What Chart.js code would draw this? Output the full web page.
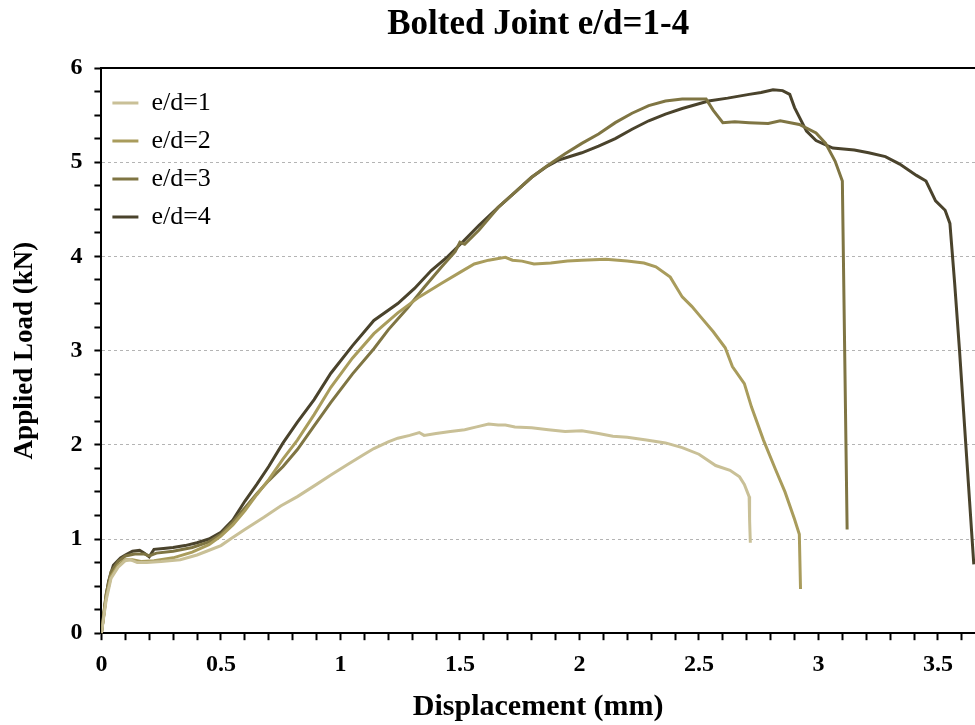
<!DOCTYPE html>
<html>
<head>
<meta charset="utf-8">
<script src="https://cdn.jsdelivr.net/npm/chart.js@4.4.1/dist/chart.umd.min.js"></script>
<style>
  html, body { margin: 0; padding: 0; background: #ffffff; }
  #wrap { width: 975px; height: 725px; }
</style>
</head>
<body>
<div id="wrap"><canvas id="c" width="975" height="725"></canvas></div>
<script>
// ---- data ----
const seriesNames = ['e/d=1', 'e/d=2', 'e/d=3', 'e/d=4'];

const ed1X = [0, 0.02, 0.04, 0.07, 0.1, 0.12, 0.15, 0.19, 0.25, 0.33, 0.4, 0.44, 0.5, 0.54, 0.6, 0.68, 0.75, 0.82, 0.9, 0.96, 1.03, 1.1, 1.14, 1.2, 1.24, 1.29, 1.33, 1.35, 1.4, 1.46, 1.52, 1.57, 1.62, 1.66, 1.69, 1.73, 1.8, 1.87, 1.94, 2.01, 2.08, 2.14, 2.2, 2.28, 2.36, 2.43, 2.5, 2.57, 2.63, 2.67, 2.69, 2.71, 2.712, 2.715];
const ed1Y = [0, 0.35, 0.58, 0.7, 0.77, 0.78, 0.75, 0.75, 0.76, 0.78, 0.83, 0.87, 0.93, 1.0, 1.1, 1.23, 1.35, 1.45, 1.58, 1.68, 1.79, 1.9, 1.96, 2.03, 2.07, 2.1, 2.13, 2.1, 2.12, 2.14, 2.16, 2.19, 2.22, 2.21, 2.21, 2.19, 2.18, 2.16, 2.14, 2.15, 2.12, 2.09, 2.08, 2.05, 2.02, 1.97, 1.9, 1.78, 1.73, 1.66, 1.58, 1.45, 1.2, 0.96];

const ed2X = [0, 0.02, 0.04, 0.07, 0.1, 0.13, 0.17, 0.22, 0.3, 0.38, 0.45, 0.5, 0.55, 0.6, 0.65, 0.7, 0.76, 0.82, 0.89, 0.96, 1.05, 1.14, 1.24, 1.33, 1.42, 1.5, 1.56, 1.62, 1.69, 1.72, 1.76, 1.81, 1.88, 1.95, 2.01, 2.11, 2.2, 2.27, 2.32, 2.38, 2.43, 2.47, 2.51, 2.56, 2.61, 2.64, 2.69, 2.72, 2.77, 2.82, 2.86, 2.9, 2.92, 2.925];
const ed2Y = [0, 0.38, 0.6, 0.72, 0.78, 0.78, 0.76, 0.77, 0.8, 0.86, 0.94, 1.03, 1.15, 1.3, 1.47, 1.63, 1.85, 2.05, 2.32, 2.61, 2.92, 3.18, 3.4, 3.57, 3.71, 3.83, 3.92, 3.96, 3.99, 3.96, 3.95, 3.92, 3.93, 3.95, 3.96, 3.97, 3.95, 3.93, 3.89, 3.78, 3.57, 3.47, 3.35, 3.2, 3.03, 2.83, 2.65, 2.4, 2.05, 1.74, 1.5, 1.21, 1.05, 0.47];

const ed3X = [0, 0.02, 0.04, 0.07, 0.1, 0.14, 0.18, 0.2, 0.23, 0.3, 0.38, 0.45, 0.5, 0.55, 0.6, 0.65, 0.7, 0.76, 0.82, 0.89, 0.96, 1.05, 1.14, 1.2, 1.28, 1.35, 1.42, 1.48, 1.5, 1.52, 1.58, 1.66, 1.73, 1.8, 1.87, 1.94, 2.01, 2.08, 2.15, 2.22, 2.29, 2.36, 2.43, 2.5, 2.53, 2.56, 2.6, 2.65, 2.71, 2.79, 2.84, 2.92, 2.99, 3.03, 3.07, 3.1, 3.12];
const ed3Y = [0, 0.42, 0.65, 0.76, 0.82, 0.84, 0.84, 0.82, 0.85, 0.87, 0.91, 0.97, 1.05, 1.18, 1.33, 1.48, 1.62, 1.77, 1.95, 2.2, 2.45, 2.75, 3.02, 3.22, 3.45, 3.67, 3.88, 4.05, 4.15, 4.13, 4.28, 4.52, 4.68, 4.84, 4.97, 5.09, 5.2, 5.3, 5.42, 5.52, 5.6, 5.65, 5.67, 5.67, 5.67, 5.55, 5.42, 5.43, 5.42, 5.41, 5.44, 5.4, 5.31, 5.2, 5.01, 4.8, 1.1];

const ed4X = [0, 0.02, 0.03, 0.05, 0.08, 0.1, 0.13, 0.16, 0.18, 0.2, 0.22, 0.26, 0.3, 0.35, 0.4, 0.45, 0.5, 0.55, 0.6, 0.65, 0.7, 0.76, 0.82, 0.89, 0.96, 1.05, 1.14, 1.24, 1.31, 1.38, 1.45, 1.51, 1.58, 1.66, 1.73, 1.8, 1.86, 1.91, 1.96, 2.01, 2.08, 2.15, 2.22, 2.29, 2.36, 2.43, 2.54, 2.62, 2.71, 2.76, 2.81, 2.85, 2.88, 2.9, 2.95, 2.99, 3.06, 3.15, 3.21, 3.28, 3.34, 3.41, 3.45, 3.49, 3.53, 3.55, 3.57, 3.59, 3.65];
const ed4Y = [0, 0.4, 0.55, 0.72, 0.8, 0.83, 0.87, 0.88, 0.85, 0.81, 0.89, 0.9, 0.91, 0.93, 0.96, 1.0, 1.07, 1.2, 1.4, 1.58, 1.77, 2.02, 2.24, 2.48, 2.76, 3.05, 3.32, 3.5, 3.66, 3.85, 4.0, 4.15, 4.33, 4.52, 4.68, 4.84, 4.95, 5.02, 5.06, 5.1, 5.17, 5.25, 5.35, 5.44, 5.51, 5.57, 5.65, 5.68, 5.72, 5.74, 5.77, 5.76, 5.72, 5.58, 5.33, 5.23, 5.15, 5.13, 5.1, 5.06, 4.98, 4.86, 4.8, 4.59, 4.49, 4.35, 3.71, 3.01, 0.73];

const seriesColors = ['#c9c097', '#a99c5c', '#7f7543', '#4a432c'];

// ---- build ----
const xs = [ed1X, ed2X, ed3X, ed4X];
const ys = [ed1Y, ed2Y, ed3Y, ed4Y];
const datasets = seriesNames.map((name, i) => ({
  label: name,
  data: xs[i].map((x, k) => ({ x: x, y: ys[i][k] })),
  borderColor: seriesColors[i],
  backgroundColor: seriesColors[i],
  borderWidth: 3,
  pointRadius: 0,
  tension: 0,
  fill: false
}));

const serif = "'Liberation Serif', 'Times New Roman', serif";
const isMult = (v, s) => Math.abs(v / s - Math.round(v / s)) < 1e-6;

const legendPlace = {
  id: 'legendPlace',
  afterLayout(chart) {
    const lg = chart.legend;
    if (!lg) return;
    const w = lg.width, h = lg.height;
    lg.left = chart.chartArea.left - 1;
    lg.top = chart.chartArea.top + 10;
    lg.right = lg.left + w;
    lg.bottom = lg.top + h;
  }
};

new Chart(document.getElementById('c'), {
  type: 'line',
  data: { datasets: datasets },
  plugins: [legendPlace],
  options: {
    responsive: false,
    animation: false,
    layout: { padding: { left: 0, right: 0, top: 0, bottom: 0 } },
    plugins: {
      title: {
        display: true,
        text: 'Bolted Joint e/d=1-4',
        fullSize: false,
        color: '#000',
        font: { family: serif, size: 35, weight: 'bold' },
        padding: { top: 4, bottom: 14 }
      },
      legend: {
        position: 'chartArea',
        align: 'start',
        labels: {
          color: '#000',
          font: { family: serif, size: 26 },
          boxWidth: 26,
          boxHeight: 3,
          padding: 12,
          generateLabels(chart) {
            return chart.data.datasets.map((d, i) => ({
              text: d.label,
              fillStyle: d.borderColor,
              strokeStyle: d.borderColor,
              lineWidth: 0,
              hidden: false,
              datasetIndex: i
            }));
          }
        }
      },
      tooltip: { enabled: false }
    },
    scales: {
      x: {
        type: 'linear',
        min: 0,
        max: 3.655,
        border: { display: true, color: '#000', width: 2 },
        grid: {
          display: true,
          drawOnChartArea: false,
          drawTicks: true,
          tickLength: 7,
          tickWidth: 2,
          tickColor: '#000',
          color: 'transparent'
        },
        ticks: {
          stepSize: 0.1,
          includeBounds: false,
          autoSkip: false,
          maxRotation: 0,
          color: '#000',
          padding: 10,
          font: { family: serif, size: 24, weight: 'bold' },
          callback: (v) => isMult(v, 0.5) ? String(Math.round(v * 2) / 2) : ''
        },
        title: {
          display: true,
          text: 'Displacement (mm)',
          color: '#000',
          font: { family: serif, size: 30, weight: 'bold' },
          padding: { top: 0, bottom: 0 }
        }
      },
      xTop: {
        type: 'linear',
        position: 'top',
        min: 0,
        max: 3.655,
        display: true,
        border: { display: true, color: '#000', width: 2 },
        grid: { display: false },
        ticks: { display: false }
      },
      y: {
        type: 'linear',
        min: 0,
        max: 6,
        border: { display: true, color: '#000', width: 2, dash: [3, 3] },
        grid: {
          display: true,
          drawOnChartArea: true,
          drawTicks: true,
          tickLength: 7,
          tickWidth: 2,
          tickColor: '#000',
          lineWidth: 1,
          color: (ctx) => {
            const v = ctx.tick ? ctx.tick.value : 0;
            return (isMult(v, 1) && v > 0.5 && v < 5.5) ? '#b4b4b4' : 'transparent';
          }
        },
        ticks: {
          stepSize: 0.25,
          autoSkip: false,
          color: '#000',
          padding: 12,
          font: { family: serif, size: 24, weight: 'bold' },
          callback: (v) => isMult(v, 1) ? String(Math.round(v)) : ''
        },
        title: {
          display: true,
          text: 'Applied Load (kN)',
          color: '#000',
          font: { family: serif, size: 27, weight: 'bold' },
          padding: { top: 9, bottom: 17 }
        }
      }
    }
  }
});
</script>
</body>
</html>
